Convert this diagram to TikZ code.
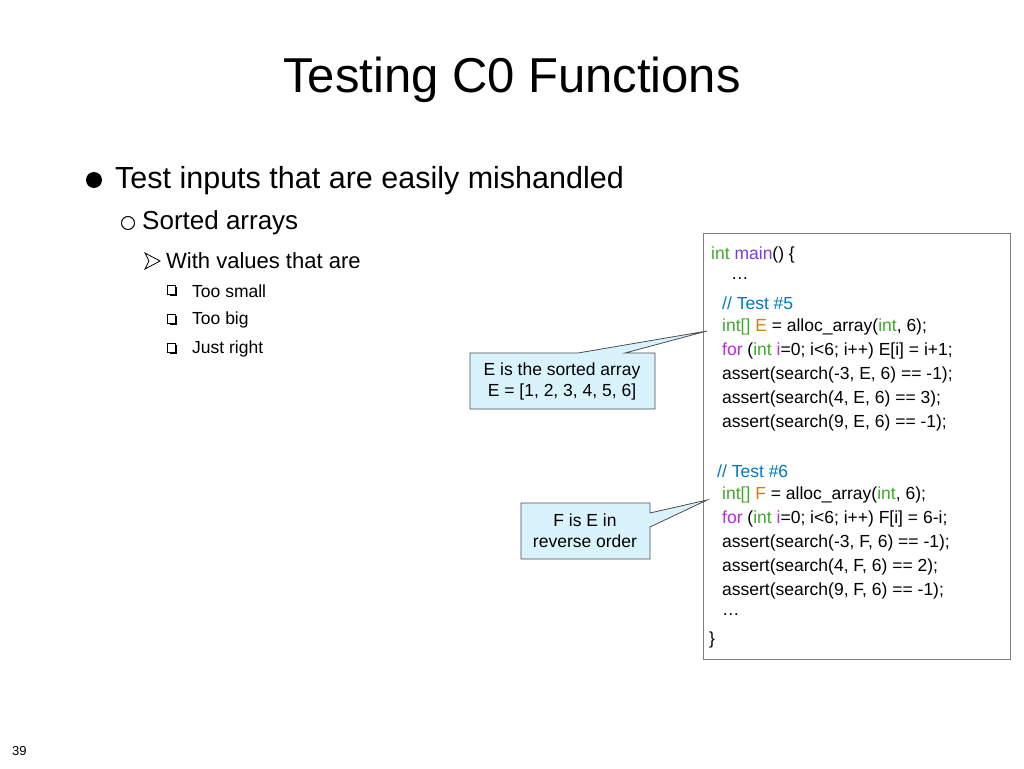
\documentclass[tikz,border=0pt]{standalone}
\usepackage{fontspec}
\setmainfont{Liberation Sans}
\begin{document}
\begin{tikzpicture}[x=1pt,y=-1pt,
  call/.style={draw=black!70,fill=cyan!15,line width=0.8pt},
  codeline/.style={anchor=west,inner sep=0pt,font=\fontsize{17.5}{20}\selectfont},
  lvl/.style={anchor=west,inner sep=0pt}]
\definecolor{kw}{RGB}{60,170,40}\definecolor{fn}{RGB}{120,60,230}
\definecolor{cm}{RGB}{0,120,190}\definecolor{vr}{RGB}{220,120,20}\definecolor{fo}{RGB}{190,40,220}
\useasboundingbox (0,0) rectangle (1024,768);
\node (title) at (512,80) {\fontsize{49}{55}\selectfont Testing C0 Functions};
\fill (94,180) circle (8);
\node[lvl] (l1) at (115,181) {\fontsize{30.5}{34}\selectfont Test inputs that are easily mishandled};
\draw[line width=1pt] (128,223) circle (6.5);
\node[lvl] (l2) at (142,223) {\fontsize{26}{30}\selectfont Sorted arrays};
\draw[fill=white,line width=0.8pt] (145,253)--(160,261)--(145,269)--(149,261)--cycle;
\node[lvl] (l3) at (166,261) {\fontsize{22}{26}\selectfont With values that are};
\foreach \y/\t in {291/Too small,320/Too big,349/Just right}{
  \fill (170,\y-4) rectangle (177,\y+5);
  \draw[fill=white,line width=0.6pt] (167,\y-6) rectangle (175,\y+3);
  \node[lvl] at (192,\y) {\fontsize{17.5}{20}\selectfont \t};}
\draw[draw=black!50,line width=0.8pt] (703,233) rectangle (1010,659);
\coordinate (tipE) at (707,331);
\coordinate (tipF) at (707,500);
\draw[call] (470,353)--(578,353)--(tipE)--(625,353)--(655,353)--(655,409)--(470,409)--cycle;
\node[align=center,font=\fontsize{17.5}{21}\selectfont,inner sep=0pt] (E) at (562,381) {E is the sorted array\\E = [1, 2, 3, 4, 5, 6]};
\draw[call] (521,503)--(650,503)--(650,513)--(tipF)--(650,527)--(650,559)--(521,559)--cycle;
\node[align=center,font=\fontsize{17.5}{21}\selectfont,inner sep=0pt] (F) at (585,531) {F is E in\\reverse order};
\node[codeline] at (711,255) {\textcolor{kw}{int} \textcolor{fn}{main}() \{};
\node[codeline] at (731,279) {\dots};
\node[codeline] at (722,303) {\textcolor{cm}{// Test \#5}};
\node[codeline] at (722,327) {\textcolor{kw}{int[]} \textcolor{vr}{E} = alloc\_array(\textcolor{kw}{int}, 6);};
\node[codeline] at (722,351) {\textcolor{fo}{for} (\textcolor{kw}{int} \textcolor{fo}{i}=0; i<6; i++) E[i] = i+1;};
\node[codeline] at (722,375) {assert(search(-3, E, 6) == -1);};
\node[codeline] at (722,399) {assert(search(4, E, 6) == 3);};
\node[codeline] at (722,423) {assert(search(9, E, 6) == -1);};
\node[codeline] at (717,471) {\textcolor{cm}{// Test \#6}};
\node[codeline] at (722,495) {\textcolor{kw}{int[]} \textcolor{vr}{F} = alloc\_array(\textcolor{kw}{int}, 6);};
\node[codeline] at (722,519) {\textcolor{fo}{for} (\textcolor{kw}{int} \textcolor{fo}{i}=0; i<6; i++) F[i] = 6-i;};
\node[codeline] at (722,543) {assert(search(-3, F, 6) == -1);};
\node[codeline] at (722,567) {assert(search(4, F, 6) == 2);};
\node[codeline] at (722,591) {assert(search(9, F, 6) == -1);};
\node[codeline] at (722,615) {\dots};
\node[codeline] at (709,640) {\}};
\node[lvl,font=\fontsize{13}{15}\selectfont] (pg) at (12,751) {39};
\end{tikzpicture}
\end{document}
